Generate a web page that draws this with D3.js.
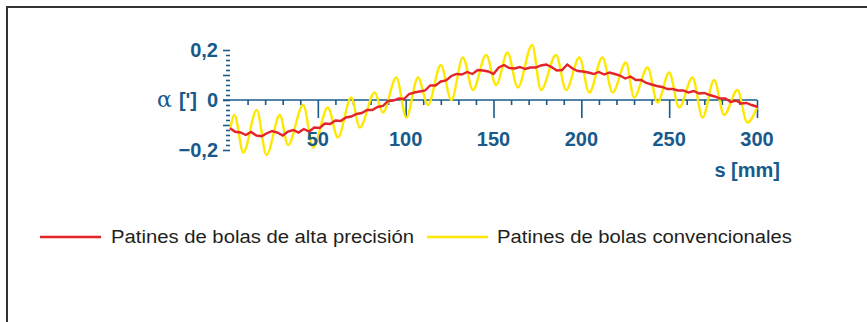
<!DOCTYPE html>
<html>
<head>
<meta charset="utf-8">
<script src="https://cdn.jsdelivr.net/npm/d3@7"></script>
<style>
  body { margin: 0; background: #fff; }
  svg { display: block; }
  .lbl { font-family: "Liberation Sans", Arial, sans-serif; font-weight: bold; fill: #175a8b; font-size: 20px; }
  .leg { font-family: "Liberation Sans", Arial, sans-serif; fill: #231f20; font-size: 18px; }
</style>
</head>
<body>
<script>
// tick labels
const xTickLabels = [50, 100, 150, 200, 250, 300];
const yTickLabels = [{v: 0.2, t: "0,2"}, {v: 0, t: "0"}, {v: -0.2, t: "\u22120,2"}];
const seriesNames = ["Patines de bolas de alta precisión", "Patines de bolas convencionales"];

// conventional carriage: peaks and troughs (s in mm, alpha in ')
const convS = [0, 2.5, 7.6, 15.2, 20.8, 28.4, 33, 41.7, 47.3, 55.7, 61.4, 69, 73.9, 82.4, 87, 94.7, 100.4, 107, 112.7, 120, 126,
  132.6, 138.3, 145.8, 151.5, 158, 163.8, 172, 177, 185.6, 191.3, 198.9, 204.5, 212, 217.8, 225.4, 230, 237.7, 243.4,
  250, 255.7, 263.3, 269, 275.6, 281.3, 288.8, 294.5, 300];
const convA = [-0.12, -0.06, -0.21, -0.04, -0.22, -0.06, -0.18, -0.02, -0.19, -0.03, -0.15, 0.01, -0.11, 0.03, -0.05, 0.09, -0.07, 0.09, -0.02, 0.14, 0.0,
  0.17, 0.04, 0.18, 0.06, 0.19, 0.05, 0.22, 0.04, 0.18, 0.04, 0.17, 0.03, 0.17, 0.03, 0.15, 0.01, 0.13, -0.01,
  0.11, -0.03, 0.09, -0.07, 0.08, -0.06, 0.04, -0.09, -0.03];

// high precision carriage: one reading every 3 mm
const precStep = 3;
const precA = [-0.113, -0.127, -0.130, -0.140, -0.128, -0.142, -0.145, -0.133, -0.124, -0.130,
  -0.142, -0.126, -0.120, -0.130, -0.116, -0.126, -0.110, -0.112, -0.094, -0.096,
  -0.082, -0.084, -0.070, -0.066, -0.056, -0.052, -0.040, -0.040, -0.028, -0.024,
  -0.004, -0.002, 0.006, 0.004, 0.024, 0.030, 0.034, 0.038, 0.058, 0.058,
  0.074, 0.078, 0.096, 0.104, 0.102, 0.112, 0.104, 0.120, 0.118, 0.114,
  0.104, 0.130, 0.140, 0.128, 0.126, 0.132, 0.124, 0.130, 0.130, 0.138,
  0.142, 0.132, 0.118, 0.120, 0.142, 0.126, 0.116, 0.114, 0.110, 0.104,
  0.112, 0.102, 0.110, 0.104, 0.098, 0.086, 0.094, 0.080, 0.080, 0.068,
  0.062, 0.056, 0.052, 0.044, 0.044, 0.038, 0.038, 0.030, 0.036, 0.026,
  0.028, 0.020, 0.014, 0.006, 0.006, -0.008, -0.002, -0.014, -0.012, -0.020, -0.027];

const axisColor = "#175a8b";
const red = "#e4242b";
const yellow = "#ffe800";

const svg = d3.select("body").append("svg").attr("width", 867).attr("height", 322);

// frame (only top and left edges show)
svg.append("path")
  .attr("d", "M7,322V7H867")
  .attr("fill", "none").attr("stroke", "#333").attr("stroke-width", 2);

const x = d3.scaleLinear().domain([0, 300]).range([230, 757]);
const y = d3.scaleLinear().domain([-0.2, 0.2]).range([150, 50]);

// y ticks, every 0.02, longer on every 0.1
const yAxis = svg.append("g")
  .attr("transform", "translate(" + x(0) + ",0)")
  .call(d3.axisLeft(y).tickValues(d3.range(-10, 11).map(i => i * 0.02)).tickSize(4).tickFormat(""));
yAxis.select(".domain").remove();
yAxis.selectAll(".tick line")
  .attr("stroke", axisColor).attr("stroke-width", 1.6)
  .attr("x2", d => Math.abs(Math.round(d * 50)) % 5 === 0 ? -7 : -4);

// x axis on the zero line
const xAxis = svg.append("g")
  .attr("transform", "translate(0," + y(0) + ")")
  .call(d3.axisBottom(x).tickValues(d3.range(10, 301, 10)).tickSize(5).tickSizeOuter(0).tickFormat(""));
xAxis.select(".domain").remove();
xAxis.append("line").attr("x1", x(0) - 7).attr("x2", x(300)).attr("stroke", axisColor).attr("stroke-width", 1.6);
xAxis.selectAll(".tick line")
  .attr("stroke", axisColor).attr("stroke-width", 1.6)
  .attr("y2", d => d % 50 === 0 ? 18 : 5);

// curves
const conv = convS.map((s, i) => [s, convA[i]]);
const prec = precA.map((a, i) => [i * precStep, a]);

svg.append("path").datum(conv)
  .attr("fill", "none").attr("stroke", yellow).attr("stroke-width", 2.4)
  .attr("d", d3.line().x(d => x(d[0])).y(d => y(d[1])).curve(d3.curveMonotoneX));

svg.append("path").datum(prec)
  .attr("fill", "none").attr("stroke", red).attr("stroke-width", 2.4)
  .attr("d", d3.line().x(d => x(d[0])).y(d => y(d[1])));

// labels
svg.selectAll(".xl").data(xTickLabels).enter().append("text")
  .attr("class", "lbl").attr("x", d => x(d)).attr("y", 146)
  .attr("text-anchor", "middle").text(d => d);

svg.selectAll(".yl").data(yTickLabels).enter().append("text")
  .attr("class", "lbl").attr("x", 218).attr("y", d => y(d.v) + 7)
  .attr("text-anchor", "end").text(d => d.t);

const alpha = svg.append("text").attr("class", "lbl").attr("x", 197).attr("y", 107).attr("text-anchor", "end");
alpha.append("tspan").attr("font-weight", "normal").attr("font-family", "DejaVu Serif, serif").attr("font-size", 22).text("\u03b1 ");
alpha.append("tspan").text("[']");

svg.append("text").attr("class", "lbl").attr("x", 780).attr("y", 177).attr("text-anchor", "end").text("s [mm]");

// legend
const legend = [{c: red, x: 40, tx: 111, w: 303}, {c: yellow, x: 427, tx: 497, w: 295}];
legend.forEach((l, i) => {
  svg.append("line").attr("x1", l.x).attr("x2", l.x + 61).attr("y1", 237).attr("y2", 237)
    .attr("stroke", l.c).attr("stroke-width", 2.6);
  svg.append("text").attr("class", "leg").attr("x", l.tx).attr("y", 243)
    .attr("textLength", l.w).attr("lengthAdjust", "spacingAndGlyphs").text(seriesNames[i]);
});
</script>
</body>
</html>
